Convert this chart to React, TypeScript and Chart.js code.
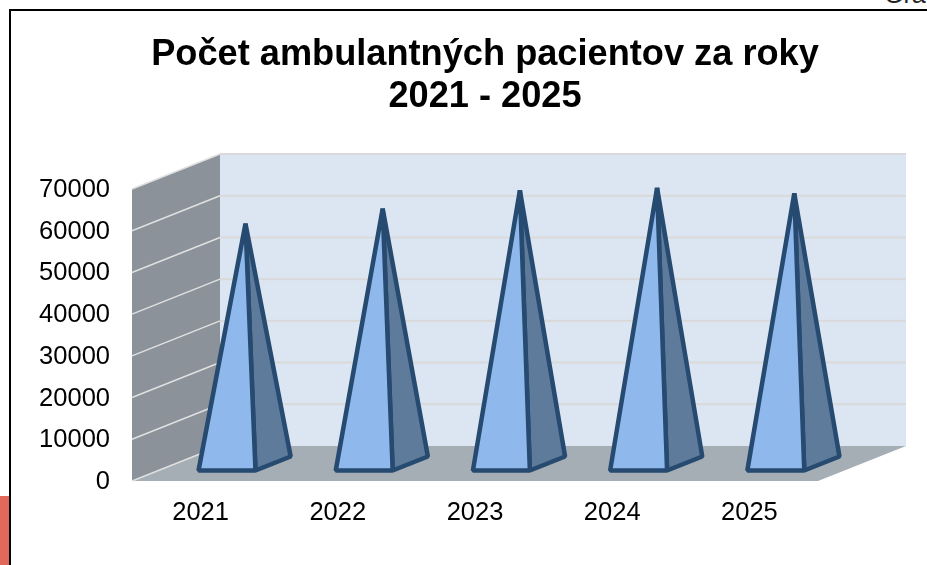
import React, { useEffect, useRef } from "react";
import { Chart, registerables } from "chart.js";

Chart.register(...registerables);

const titleLines = ["Počet ambulantných pacientov za roky", "2021 - 2025"];
const years = ["2021", "2022", "2023", "2024", "2025"];
const patients = [57400, 61000, 65400, 66000, 64700];
const yTicks = [0, 10000, 20000, 30000, 40000, 50000, 60000, 70000];

const FONT = "'Liberation Sans', Arial, sans-serif";
const DEPTH_X = 88;
const DEPTH_Y = -35;
const BAR_FRONT = 0.3;
const BAR_BACK = 0.7;
const BAR_MID = 0.51;

const wallsPlugin = {
  id: "walls",
  beforeDatasetsDraw(chart: any) {
    const { ctx, chartArea: a, scales } = chart;
    const y = scales.y;
    const x0 = a.left, x1 = a.right, top = a.top, bot = a.bottom;
    const poly = (pts: number[][], fill: string) => {
      ctx.beginPath();
      pts.forEach((p, i) => (i ? ctx.lineTo(p[0], p[1]) : ctx.moveTo(p[0], p[1])));
      ctx.closePath();
      ctx.fillStyle = fill;
      ctx.fill();
    };
    ctx.save();
    // back wall
    poly([[x0 + DEPTH_X, top + DEPTH_Y], [x1 + DEPTH_X, top + DEPTH_Y], [x1 + DEPTH_X, bot + DEPTH_Y], [x0 + DEPTH_X, bot + DEPTH_Y]], "#DCE6F2");
    // side wall
    poly([[x0, top], [x0 + DEPTH_X, top + DEPTH_Y], [x0 + DEPTH_X, bot + DEPTH_Y], [x0, bot]], "#8B9299");
    // floor
    poly([[x0, bot], [x0 + DEPTH_X, bot + DEPTH_Y], [x1 + DEPTH_X, bot + DEPTH_Y], [x1, bot]], "#A6AEB5");
    // gridlines
    yTicks.forEach((v) => {
      const py = y.getPixelForValue(v);
      ctx.lineWidth = 1.5;
      ctx.strokeStyle = "#E0E0E0";
      ctx.beginPath();
      ctx.moveTo(x0, py);
      ctx.lineTo(x0 + DEPTH_X, py + DEPTH_Y);
      ctx.stroke();
      if (v > 0) {
        ctx.lineWidth = 2;
        ctx.strokeStyle = "#D9D9D9";
        ctx.beginPath();
        ctx.moveTo(x0 + DEPTH_X, py + DEPTH_Y);
        ctx.lineTo(x1 + DEPTH_X, py + DEPTH_Y);
        ctx.stroke();
      }
    });
    ctx.restore();
  },
};

const pyramidPlugin = {
  id: "pyramids",
  afterDatasetsDraw(chart: any) {
    const { ctx } = chart;
    const bars = chart.getDatasetMeta(0).data;
    ctx.save();
    ctx.lineWidth = 4.5;
    ctx.lineJoin = "bevel";
    ctx.strokeStyle = "#264A70";
    bars.forEach((b: any) => {
      const half = b.width / 2;
      const fl = [b.x - half + BAR_FRONT * DEPTH_X, b.base + BAR_FRONT * DEPTH_Y];
      const fr = [b.x + half + BAR_FRONT * DEPTH_X, b.base + BAR_FRONT * DEPTH_Y];
      const br = [b.x + half + BAR_BACK * DEPTH_X, b.base + BAR_BACK * DEPTH_Y];
      const apex = [b.x + BAR_MID * DEPTH_X, b.y + BAR_MID * DEPTH_Y];
      const tri = (p: number[][], fill: string) => {
        ctx.beginPath();
        ctx.moveTo(p[0][0], p[0][1]);
        ctx.lineTo(p[1][0], p[1][1]);
        ctx.lineTo(p[2][0], p[2][1]);
        ctx.closePath();
        ctx.fillStyle = fill;
        ctx.fill();
        ctx.stroke();
      };
      tri([fr, br, apex], "#5F7B9B");
      tri([fl, fr, apex], "#8FB8EC");
    });
    ctx.restore();
  },
};

export default function App() {
  const ref = useRef<HTMLCanvasElement>(null);
  useEffect(() => {
    const chart = new Chart(ref.current as HTMLCanvasElement, {
      type: "bar",
      data: {
        labels: years,
        datasets: [
          {
            data: patients,
            backgroundColor: "rgba(0,0,0,0)",
            borderWidth: 0,
            barPercentage: 0.415,
            categoryPercentage: 1,
          },
        ],
      },
      options: {
        responsive: false,
        animation: false,
        layout: { padding: 0 },
        plugins: {
          legend: { display: false },
          tooltip: { enabled: false },
          title: {
            display: true,
            text: titleLines,
            color: "#000000",
            font: { family: FONT, size: 36.2, weight: "bold", lineHeight: 42 / 36.2 },
            padding: { top: 34, bottom: 71 },
          },
        },
        scales: {
          x: {
            grid: { display: false },
            border: { display: false },
            ticks: { color: "#000000", font: { family: FONT, size: 25.5 }, padding: 9, maxRotation: 0 },
            afterFit(s: any) {
              s.height = 84;
            },
          },
          y: {
            min: 0,
            max: 70000,
            grid: { display: false, drawTicks: false },
            border: { display: false },
            afterBuildTicks(s: any) {
              s.ticks = yTicks.map((value) => ({ value }));
            },
            ticks: { color: "#000000", font: { family: FONT, size: 25.5 }, padding: 22, labelOffset: 1, callback: (v: any) => String(v) },
            afterFit(s: any) {
              s.width = 102;
            },
          },
          spacer: {
            position: "right",
            min: 0,
            max: 1,
            grid: { display: false, drawTicks: false },
            border: { display: false },
            ticks: { display: false },
            afterFit(s: any) {
              s.width = 122;
            },
          },
        },
      } as any,
      plugins: [wallsPlugin, pyramidPlugin],
    });
    return () => chart.destroy();
  }, []);
  return (
    <div style={{ position: "fixed", left: 0, top: 0, width: 927, height: 565, background: "#fff", overflow: "hidden" }}>
      <div style={{ position: "absolute", left: 0, top: 496, width: 9, height: 69, background: "#E3685A" }} />
      <div style={{ position: "absolute", left: 884, top: 0, width: 43, height: 9, overflow: "hidden" }}>
        <div style={{ position: "absolute", top: -20, left: 0, font: `25px ${FONT}`, color: "#222", whiteSpace: "nowrap" }}>Gra</div>
      </div>
      <canvas ref={ref} width={910} height={565} style={{ position: "absolute", left: 30, top: 0, display: "block" }} />
      <div style={{ position: "absolute", left: 9, top: 9, width: 918, height: 2, background: "#000" }} />
      <div style={{ position: "absolute", left: 9, top: 9, width: 2, height: 556, background: "#000" }} />
    </div>
  );
}
